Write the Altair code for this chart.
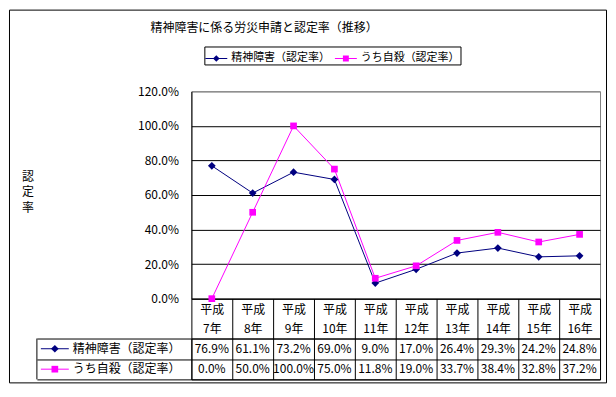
import altair as alt
import pandas as pd

FONT = "Noto Sans CJK JP"

title_text = "精神障害に係る労災申請と認定率（推移）"
y_title = "認定率"
categories = ["平成7年", "平成8年", "平成9年", "平成10年", "平成11年",
              "平成12年", "平成13年", "平成14年", "平成15年", "平成16年"]
series_names = ["精神障害（認定率）", "うち自殺（認定率）"]
mental = [76.9, 61.1, 73.2, 69.0, 9.0, 17.0, 26.4, 29.3, 24.2, 24.8]
suicide = [0.0, 50.0, 100.0, 75.0, 11.8, 19.0, 33.7, 38.4, 32.8, 37.2]
y_ticks = [0, 20, 40, 60, 80, 100, 120]
colors = ["#000080", "#FF00FF"]
shapes = ["diamond", "square"]
sizes = [60, 45]

rows = []
for s, vals in zip(series_names, [mental, suicide]):
    for c, v in zip(categories, vals):
        rows.append({"cat": c, "series": s, "value": v, "label": f"{v:.1f}%"})
df = pd.DataFrame(rows)
series_df = pd.DataFrame({"series": series_names})
one = pd.DataFrame({"k": [0]})

color_scale = alt.Scale(domain=series_names, range=colors)
cat_scale = alt.Scale(domain=categories, paddingInner=0, paddingOuter=0)
row_scale = alt.Scale(domain=series_names, paddingInner=0, paddingOuter=0)

x_top = alt.X(
    "cat:N", scale=cat_scale,
    axis=alt.Axis(
        title=None, labelAngle=0, tickBand="extent", tickSize=40, tickColor="black",
        domainColor="black", labelPadding=-34, labelBaseline="top", labelFontSize=12,
        labelLineHeight=19, labelColor="black",
        labelExpr="[slice(datum.label, 0, 2), slice(datum.label, 2)]",
    ),
)
y_top = alt.Y(
    "value:Q", scale=alt.Scale(domain=[0, 120], nice=False),
    axis=alt.Axis(
        values=y_ticks, labelExpr="format(datum.value, '.1f') + '%'",
        grid=True,
        gridColor={"condition": {"test": "datum.value >= 120", "value": "#808080"}, "value": "black"},
        domainColor="black", ticks=False, labelPadding=13, labelFontSize=12, labelColor="black",
        title=list(y_title), titleAngle=0, titleX=-164.5, titleY=80, titleAlign="center",
        titleBaseline="top", titleFontSize=12, titleFontWeight="normal", titleLineHeight=16,
        titleColor="black",
    ),
)

top_layers = []
for s, col in zip(series_names, colors):
    top_layers.append(
        alt.Chart(df).transform_filter(alt.datum.series == s)
        .mark_line(strokeWidth=1, color=col).encode(x=x_top, y=y_top)
    )
for s, col, shp, sz in zip(series_names, colors, shapes, sizes):
    top_layers.append(
        alt.Chart(df).transform_filter(alt.datum.series == s)
        .mark_point(shape=shp, filled=True, size=sz, opacity=1, color=col).encode(x=x_top, y=y_top)
    )

path_d = "M-1,-0.045H1V0.045H-1Z M0,-0.3L0.3,0L0,0.3L-0.3,0Z"
path_s = "M-1,-0.045H1V0.045H-1Z M-0.27,-0.27H0.27V0.27H-0.27Z"
leg = alt.Legend(orient="none", legendX=13, legendY=-45, direction="horizontal", title=None,
                 strokeColor="black", padding=1, symbolSize=484, symbolStrokeWidth=0,
                 labelFontSize=11, labelOffset=4, columnPadding=5, labelColor="black")
legend_layer = alt.Chart(df).transform_filter("false").mark_point(filled=True, opacity=1).encode(
    color=alt.Color("series:N", scale=color_scale, legend=leg),
    shape=alt.Shape("series:N", scale=alt.Scale(domain=series_names, range=[path_d, path_s]), legend=leg),
)
top_layers.append(legend_layer)

top = alt.layer(*top_layers).properties(
    width=410, height=208,
    view=alt.ViewBackground(stroke="#808080", strokeWidth=1),
    title=alt.TitleParams(title_text, anchor="start", frame="group", dx=-41, dy=-47, fontSize=12,
                          fontWeight="normal", color="black"),
)

# ---- data table below the plot ----
x_tab = alt.X("cat:N", scale=cat_scale,
              axis=alt.Axis(grid=True, tickBand="extent", gridColor="black", labels=False,
                            ticks=False, domain=False, title=None))
y_tab = alt.Y("series:N", scale=row_scale,
              axis=alt.Axis(grid=True, tickBand="extent", gridColor="black", ticks=True,
                            tickSize=155, tickColor="black", labels=False, domain=False, title=None))

tab_layers = [
    alt.Chart(df).mark_text(fontSize=12, color="black").encode(x=x_tab, y=y_tab, text="label:N"),
    alt.Chart(one).mark_rule(color="black").encode(x=alt.value(-155), y=alt.value(0), y2=alt.value(41)),
    alt.Chart(series_df).mark_text(align="left", fontSize=12, color="black").encode(
        x=alt.value(-119), y=alt.Y("series:N", scale=row_scale), text="series:N"),
]
for s, col, shp, sz in zip(series_names, colors, shapes, sizes):
    tab_layers.append(
        alt.Chart(series_df).transform_filter(alt.datum.series == s)
        .mark_rule(strokeWidth=1, color=col)
        .encode(x=alt.value(-151), x2=alt.value(-123), y=alt.Y("series:N", scale=row_scale))
    )
    tab_layers.append(
        alt.Chart(series_df).transform_filter(alt.datum.series == s)
        .mark_point(shape=shp, filled=True, size=sz, opacity=1, color=col)
        .encode(x=alt.value(-137), y=alt.Y("series:N", scale=row_scale))
    )
tab_layers.append(
    alt.Chart(one).mark_rect(fillOpacity=0, stroke="black", strokeWidth=1).encode(
        x=alt.value(-182.5), x2=alt.value(416.5), y=alt.value(-329.5), y2=alt.value(44.5))
)

table = alt.layer(*tab_layers).properties(
    width=410, height=41,
    view=alt.ViewBackground(stroke="black", strokeWidth=1),
)

chart = alt.vconcat(top, table, spacing=40, bounds="flush").properties(
    padding=0, background="white"
).configure(font=FONT)

chart.save("out.html", embed_options={"renderer": "svg", "actions": False})
